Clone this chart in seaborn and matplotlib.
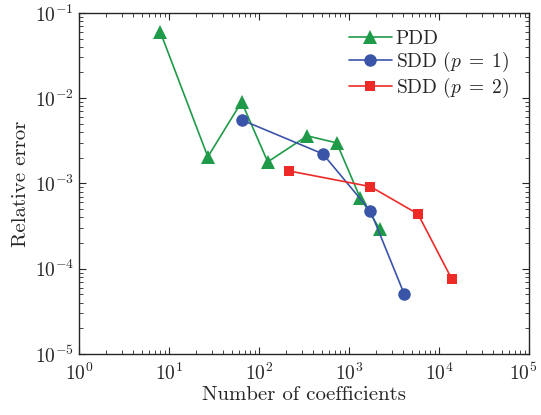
import numpy as np
import pandas as pd
import matplotlib
matplotlib.use("Agg")
import matplotlib.pyplot as plt
import matplotlib.transforms as mtransforms
import seaborn as sns

# data
pdd_n = [8, 27, 64, 125, 343, 729, 1331, 2197]
pdd_err = [0.0598, 0.00205, 0.00903, 0.00179, 0.00361, 0.00299, 0.000676, 0.000292]

sdd1_n = [64, 512, 1728, 4096]
sdd1_err = [0.00556, 0.00222, 0.000475, 5.06e-5]

sdd2_n = [216, 1728, 5832, 13824]
sdd2_err = [0.0014, 0.000918, 0.000438, 7.58e-5]

sns.set_style("ticks")
plt.rcParams['font.family'] = 'serif'
plt.rcParams['font.serif'] = ['cmr10', 'DejaVu Serif']
plt.rcParams['mathtext.fontset'] = 'cm'
plt.rcParams['axes.formatter.use_mathtext'] = True
plt.rcParams['axes.unicode_minus'] = False

fig = plt.figure(figsize=(5.41, 4.15), dpi=100)
ax = fig.add_axes([0.146, 0.147, 0.832, 0.822])

green = '#1f9a48'
blue = '#3a55a8'
red = '#ee2a27'

sns.lineplot(x=pdd_n, y=pdd_err, ax=ax, color=green, marker='^', markersize=10,
             markeredgewidth=0, linewidth=1.2, label='PDD')
sns.lineplot(x=sdd1_n, y=sdd1_err, ax=ax, color=blue, marker='o', markersize=9,
             markeredgewidth=0, linewidth=1.2, label='SDD ($p\\;=\\;1$)')
sns.lineplot(x=sdd2_n, y=sdd2_err, ax=ax, color=red, marker='s', markersize=7,
             markeredgewidth=0, linewidth=1.2, label='SDD ($p\\;=\\;2$)')

ax.set_xscale('log')
ax.set_yscale('log')
ax.set_xlim(1, 1e5)
ax.set_ylim(1e-5, 1e-1)
ax.set_xticks([1, 10, 100, 1e3, 1e4, 1e5])
ax.set_xticklabels(['$10^{%d}$' % i for i in range(6)])
ax.tick_params(which='both', direction='in', top=True, right=True, labelsize=14)
ax.tick_params(axis='x', pad=6)
ax.tick_params(which='major', length=5)
ax.tick_params(which='minor', length=3)
for s in ax.spines.values():
    s.set_linewidth(1.0)

# pull the last x tick label in a little so it stays on the canvas
last = ax.get_xticklabels()[-1]
last.set_transform(last.get_transform() +
                   mtransforms.ScaledTranslation(-6 / 100, 0, fig.dpi_scale_trans))

ax.set_xlabel('Number of coefficients', fontsize=15, labelpad=2)
ax.set_ylabel('Relative error', fontsize=15)
ax.yaxis.set_label_coords(-0.108, 0.5)

ax.legend(loc='upper right', frameon=False, fontsize=14, handlelength=2.2,
          handletextpad=0.2, labelspacing=0.1, borderaxespad=0.3,
          bbox_to_anchor=(0.985, 0.99))

fig.savefig('out.png', dpi=100)
